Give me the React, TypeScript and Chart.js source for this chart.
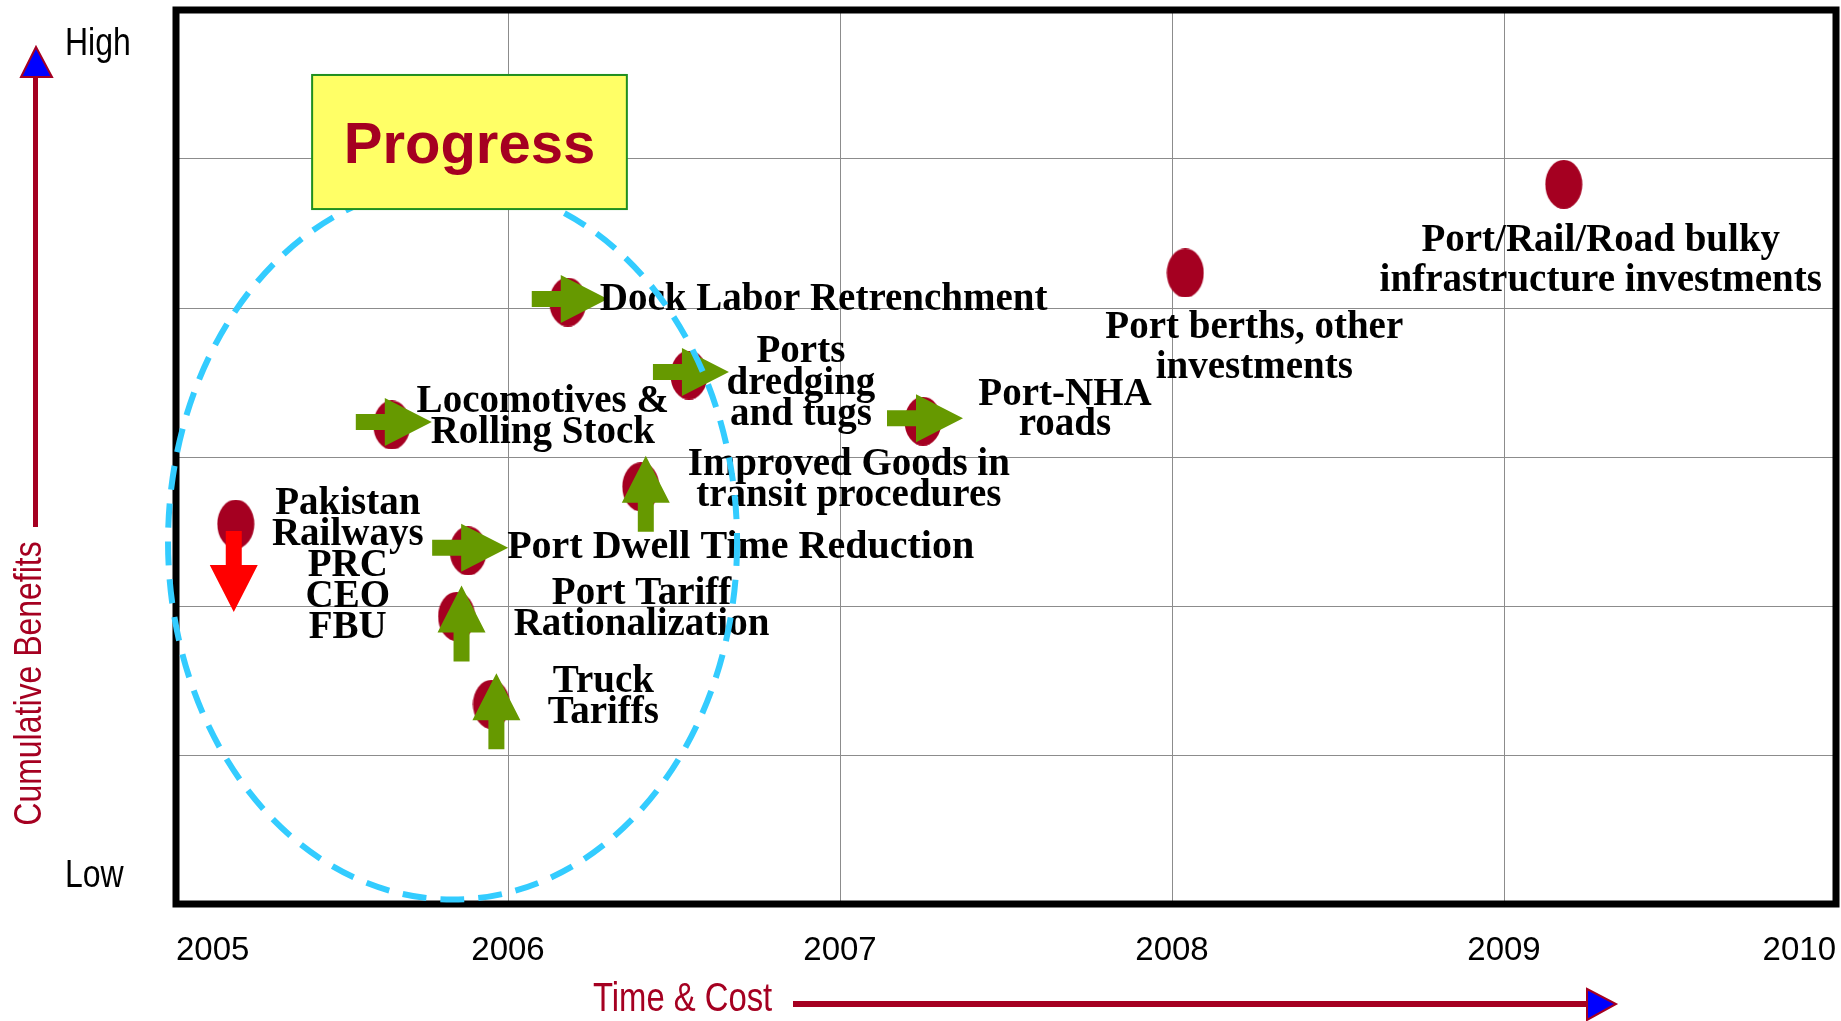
import React, { useEffect, useRef } from 'react';
import { Chart, registerables } from 'chart.js';

Chart.register(...registerables);

// ---------- data ----------
const YEARS = [2005, 2006, 2007, 2008, 2009, 2010];
const BENEFIT_MIN = 0;
const BENEFIT_MAX = 6;

const ITEMS = [
  'Pakistan Railways PRC CEO FBU',
  'Locomotives & Rolling Stock',
  'Dock Labor Retrenchment',
  'Ports dredging and tugs',
  'Port-NHA roads',
  'Improved Goods in transit procedures',
  'Port Dwell Time Reduction',
  'Port Tariff Rationalization',
  'Truck Tariffs',
  'Port berths, other investments',
  'Port/Rail/Road bulky infrastructure investments',
];
// time (year) of each initiative
const POINT_X = [2005.18, 2005.65, 2006.18, 2006.545, 2007.25, 2006.4, 2005.88, 2005.845, 2005.95, 2008.04, 2009.18];
// cumulative benefit level (0 = Low, 6 = High)
const POINT_Y = [2.55, 3.215, 4.04, 3.55, 3.24, 2.8, 2.37, 1.93, 1.34, 4.235, 4.83];
// progress direction of each initiative
const ARROW_DIR = ['down', 'right', 'right', 'right', 'right', 'up', 'right', 'up', 'up', null, null];

const LABEL_LINES = [
  ['Pakistan', 'Railways', 'PRC', 'CEO', 'FBU'],
  ['Locomotives &', 'Rolling Stock'],
  ['Dock Labor Retrenchment'],
  ['Ports', 'dredging', 'and tugs'],
  ['Port-NHA', 'roads'],
  ['Improved Goods in', 'transit procedures'],
  ['Port Dwell Time Reduction'],
  ['Port Tariff', 'Rationalization'],
  ['Truck', 'Tariffs'],
  ['Port berths, other', 'investments'],
  ['Port/Rail/Road bulky', 'infrastructure investments'],
];

const Y_HIGH = 'High';
const Y_LOW = 'Low';
const Y_TITLE = 'Cumulative Benefits';
const X_TITLE = 'Time & Cost';
const BOX_TEXT = 'Progress';

// ---------- layout / style (not data) ----------
const LABEL_LAYOUT = [
  { dx: 112, dy: -10, lh: 31, align: 'center' },
  { dx: 151, dy: -13, lh: 31, align: 'center' },
  { dx: 32, dy: 8, lh: 31, align: 'left' },
  { dx: 112, dy: -13, lh: 31.5, align: 'center' },
  { dx: 142, dy: -16, lh: 30, align: 'center' },
  { dx: 208, dy: -12, lh: 31, align: 'center' },
  { dx: 39, dy: 7, lh: 31, align: 'left' },
  { dx: 185, dy: -12, lh: 31, align: 'center' },
  { dx: 112, dy: -12, lh: 31, align: 'center' },
  { dx: 69, dy: 65, lh: 40, align: 'center' },
  { dx: 37, dy: 67, lh: 40, align: 'center' },
];
const LABEL_FONT_SIZE = [39, 39, 39, 39, 39, 39, 40, 39, 39, 39, 39];

const ARROW_GEOM: Record<string, { from: [number, number]; to: [number, number]; color: string }> = {
  right: { from: [-36, -3], to: [40, -3], color: '#669900' },
  up: { from: [5, 45], to: [5, -31], color: '#669900' },
  down: { from: [-2, 7], to: [-2, 88], color: '#ff0000' },
};

const ZONE = { cx: 2005.833, cy: 2.43, rx: 0.857, ry: 2.4 };
const BOX = { x0: 2005.41, x1: 2006.358, y0: 5.564, y1: 4.664 };

const DARK_RED = '#a50021';
const GRID = '#8c8c8c';
const SERIF = '"Liberation Serif", "Times New Roman", serif';
const SANS = '"Liberation Sans", Arial, sans-serif';
const NARROW_SCALE = 0.82;

function drawArrow(ctx: CanvasRenderingContext2D, x0: number, y0: number, x1: number, y1: number, color: string) {
  const shaftW = 16, headW = 48, headL = 47;
  const dx = x1 - x0, dy = y1 - y0;
  const len = Math.hypot(dx, dy);
  const ux = dx / len, uy = dy / len;
  const nx = -uy, ny = ux;
  const bx = x1 - ux * headL, by = y1 - uy * headL;
  ctx.beginPath();
  ctx.moveTo(x0 + nx * shaftW / 2, y0 + ny * shaftW / 2);
  ctx.lineTo(bx + nx * shaftW / 2, by + ny * shaftW / 2);
  ctx.lineTo(bx + nx * headW / 2, by + ny * headW / 2);
  ctx.lineTo(x1, y1);
  ctx.lineTo(bx - nx * headW / 2, by - ny * headW / 2);
  ctx.lineTo(bx - nx * shaftW / 2, by - ny * shaftW / 2);
  ctx.lineTo(x0 - nx * shaftW / 2, y0 - ny * shaftW / 2);
  ctx.closePath();
  ctx.fillStyle = color;
  ctx.fill();
}

// narrow (condensed) sans text, emulating Arial Narrow
function narrowText(ctx: CanvasRenderingContext2D, text: string, x: number, y: number, size: number, color: string, align: CanvasTextAlign, rotate = 0) {
  ctx.save();
  ctx.translate(x, y);
  if (rotate) ctx.rotate(rotate);
  ctx.scale(NARROW_SCALE, 1);
  ctx.font = `${size}px ${SANS}`;
  ctx.fillStyle = color;
  ctx.textAlign = align;
  ctx.textBaseline = 'alphabetic';
  ctx.fillText(text, 0, 0);
  ctx.restore();
}

function makeDot(): HTMLCanvasElement {
  const c = document.createElement('canvas');
  c.width = 38;
  c.height = 49;
  const g = c.getContext('2d')!;
  g.fillStyle = DARK_RED;
  g.beginPath();
  g.ellipse(19, 24.5, 18.5, 24.5, 0, 0, Math.PI * 2);
  g.fill();
  return c;
}

const overlayPlugin = {
  id: 'overlay',
  afterDatasetsDraw(chart: any) {
    const { ctx, chartArea, scales } = chart;
    const xs = scales.x, ys = scales.y;
    ctx.save();
    // arrows
    POINT_X.forEach((v, i) => {
      const dir = ARROW_DIR[i];
      if (!dir) return;
      const g = ARROW_GEOM[dir];
      const px = xs.getPixelForValue(v), py = ys.getPixelForValue(POINT_Y[i]);
      drawArrow(ctx, px + g.from[0], py + g.from[1], px + g.to[0], py + g.to[1], g.color);
    });
    // labels
    ctx.fillStyle = '#000';
    ctx.textBaseline = 'alphabetic';
    LABEL_LINES.forEach((lines, i) => {
      const L = LABEL_LAYOUT[i];
      const px = xs.getPixelForValue(POINT_X[i]), py = ys.getPixelForValue(POINT_Y[i]);
      ctx.font = `bold ${LABEL_FONT_SIZE[i]}px ${SERIF}`;
      ctx.textAlign = L.align;
      lines.forEach((t, k) => ctx.fillText(t, px + L.dx, py + L.dy + k * L.lh));
    });
    // frame
    ctx.strokeStyle = '#000';
    ctx.lineWidth = 7;
    ctx.strokeRect(chartArea.left, chartArea.top, chartArea.right - chartArea.left, chartArea.bottom - chartArea.top);
    // dashed zone
    const cx = xs.getPixelForValue(ZONE.cx), cy = ys.getPixelForValue(ZONE.cy);
    const rx = xs.getPixelForValue(ZONE.cx + ZONE.rx) - cx;
    const ry = cy - ys.getPixelForValue(ZONE.cy + ZONE.ry);
    ctx.beginPath();
    ctx.ellipse(cx, cy, rx, ry, 0, 0, Math.PI * 2);
    ctx.strokeStyle = '#33ccff';
    ctx.lineWidth = 6;
    ctx.setLineDash([24, 14]);
    ctx.stroke();
    ctx.setLineDash([]);
    // progress box
    const bx0 = xs.getPixelForValue(BOX.x0), bx1 = xs.getPixelForValue(BOX.x1);
    const by0 = ys.getPixelForValue(BOX.y0), by1 = ys.getPixelForValue(BOX.y1);
    ctx.fillStyle = '#ffff66';
    ctx.fillRect(bx0, by0, bx1 - bx0, by1 - by0);
    ctx.strokeStyle = '#1f8f1f';
    ctx.lineWidth = 2;
    ctx.strokeRect(bx0, by0, bx1 - bx0, by1 - by0);
    ctx.fillStyle = DARK_RED;
    ctx.font = `bold 58px ${SANS}`;
    ctx.textAlign = 'center';
    ctx.fillText(BOX_TEXT, (bx0 + bx1) / 2, (by0 + by1) / 2 + 21);
    ctx.restore();
  },
  afterDraw(chart: any) {
    const { ctx } = chart;
    ctx.save();
    // vertical axis arrow
    ctx.strokeStyle = DARK_RED;
    ctx.lineWidth = 5;
    ctx.beginPath();
    ctx.moveTo(35.5, 77);
    ctx.lineTo(35.5, 527);
    ctx.stroke();
    ctx.beginPath();
    ctx.moveTo(36, 47);
    ctx.lineTo(52, 77);
    ctx.lineTo(21, 77);
    ctx.closePath();
    ctx.fillStyle = '#0000ff';
    ctx.fill();
    ctx.lineWidth = 2;
    ctx.stroke();
    // High / Low
    narrowText(ctx, Y_HIGH, 65, 55, 39, '#000', 'left');
    narrowText(ctx, Y_LOW, 65, 887, 39, '#000', 'left');
    // y title
    narrowText(ctx, Y_TITLE, 41, 683.5, 39, DARK_RED, 'center', -Math.PI / 2);
    // x title + arrow
    narrowText(ctx, X_TITLE, 593, 1011, 40, DARK_RED, 'left');
    ctx.strokeStyle = DARK_RED;
    ctx.lineWidth = 6;
    ctx.beginPath();
    ctx.moveTo(793, 1004);
    ctx.lineTo(1588, 1004);
    ctx.stroke();
    ctx.beginPath();
    ctx.moveTo(1587, 989);
    ctx.lineTo(1616, 1004);
    ctx.lineTo(1587, 1020);
    ctx.closePath();
    ctx.fillStyle = '#0000ff';
    ctx.fill();
    ctx.lineWidth = 2;
    ctx.stroke();
    ctx.restore();
  },
};

export default function App() {
  const ref = useRef<HTMLCanvasElement | null>(null);

  useEffect(() => {
    document.body.style.margin = '0';
    const canvas = ref.current;
    if (!canvas) return;
    const dot = makeDot();
    const chart = new Chart(canvas, {
      type: 'scatter',
      data: {
        labels: ITEMS,
        datasets: [
          {
            label: 'Initiatives',
            data: POINT_X.map((x, i) => ({ x, y: POINT_Y[i] })),
            pointStyle: dot as any,
            pointRadius: 22,
            pointHoverRadius: 22,
            backgroundColor: DARK_RED,
            borderWidth: 0,
          },
        ],
      },
      options: {
        responsive: false,
        animation: false,
        events: [],
        layout: { autoPadding: false, padding: { left: 176, top: 10, right: 5, bottom: 0 } },
        plugins: {
          legend: { display: false },
          tooltip: { enabled: false },
        },
        scales: {
          x: {
            type: 'linear',
            position: 'bottom',
            min: YEARS[0],
            max: YEARS[YEARS.length - 1],
            grid: { color: GRID, lineWidth: 1, drawTicks: false },
            border: { display: false },
            afterBuildTicks: (s: any) => {
              s.ticks = YEARS.map((v) => ({ value: v }));
            },
            ticks: {
              align: 'inner',
              padding: 4,
              color: '#000',
              font: { family: SANS, size: 33, lineHeight: 86 / 33 },
              callback: (v: any) => String(v),
            },
            afterFit: (s: any) => {
              s.height = 117;
            },
          },
          y: {
            type: 'linear',
            min: BENEFIT_MIN,
            max: BENEFIT_MAX,
            grid: { color: GRID, lineWidth: 1, drawTicks: false },
            border: { display: false },
            ticks: { display: false, stepSize: 1 },
            afterFit: (s: any) => {
              s.width = 0;
            },
          },
        },
      } as any,
      plugins: [overlayPlugin],
    });
    return () => chart.destroy();
  }, []);

  return <canvas ref={ref} width={1841} height={1021} style={{ display: 'block' }} />;
}
